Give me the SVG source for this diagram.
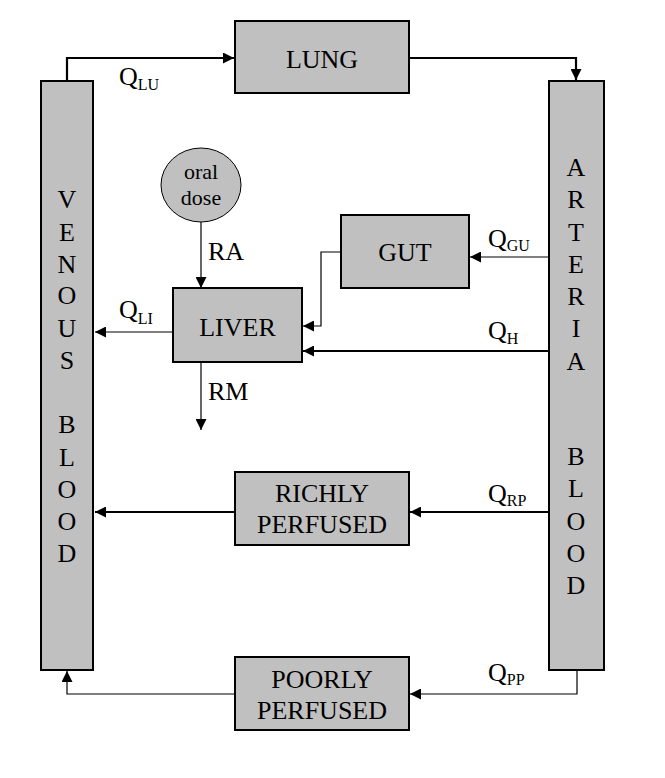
<svg xmlns="http://www.w3.org/2000/svg" width="665" height="778" viewBox="0 0 665 778">
<style>
.box{fill:#c0c0c0;stroke:#000;stroke-width:2}
.t{font-family:'Times New Roman',Times,'Liberation Serif','DejaVu Serif',serif;font-size:26px;fill:#000}
.c{text-anchor:middle}
.s{font-size:16px}
.od{font-size:22px}
.ln{fill:none;stroke:#000;stroke-width:1.2}
.th{stroke-width:2.2}
</style>
<defs>
<marker id="ah" markerUnits="userSpaceOnUse" markerWidth="11" markerHeight="11" refX="11" refY="5.5" orient="auto" viewBox="0 0 11 11">
<path d="M0,0 L11,5.5 L0,11 z" fill="#000"/>
</marker>
</defs>
<rect width="665" height="778" fill="#fff"/>
<g id="connectors">
<path class="ln th" d="M67,80 V58 H234" marker-end="url(#ah)"/>
<path class="ln th" d="M409,58 H576 V80" marker-end="url(#ah)"/>
<path class="ln" d="M549,257 H470" marker-end="url(#ah)"/>
<path class="ln" d="M341,252 H321 V326 H303" marker-end="url(#ah)"/>
<path class="ln th" d="M549,351 H303" marker-end="url(#ah)"/>
<path class="ln" d="M173,332 H95" marker-end="url(#ah)"/>
<path class="ln" d="M201,222 V288" marker-end="url(#ah)"/>
<path class="ln" d="M201,363 V430" marker-end="url(#ah)"/>
<path class="ln th" d="M549,512 H410" marker-end="url(#ah)"/>
<path class="ln th" d="M235,512 H95" marker-end="url(#ah)"/>
<path class="ln" d="M577,670 V694 H410" marker-end="url(#ah)"/>
<path class="ln" d="M235,694 H67 V671" marker-end="url(#ah)"/>
<text class="t" x="119" y="85">Q<tspan class="s" dy="5">LU</tspan></text>
<text class="t" x="488" y="247">Q<tspan class="s" dy="4">GU</tspan></text>
<text class="t" x="488" y="339">Q<tspan class="s" dy="5">H</tspan></text>
<text class="t" x="119" y="318">Q<tspan class="s" dy="6">LI</tspan></text>
<text class="t" x="488" y="502">Q<tspan class="s" dy="4">RP</tspan></text>
<text class="t" x="488" y="681">Q<tspan class="s" dy="4">PP</tspan></text>
<text class="t" x="208" y="260">RA</text>
<text class="t" x="208" y="400">RM</text>
</g>

<g id="lung">
<rect class="box" x="235" y="21" width="174" height="72"/>
<text class="t c" x="322" y="68">LUNG</text>
</g>

<g id="venous">
<rect class="box" x="41" y="81" width="52" height="589"/>
<g class="t c">
<text x="67" y="208">V</text>
<text x="67" y="241">E</text>
<text x="67" y="273">N</text>
<text x="67" y="304">O</text>
<text x="67" y="337">U</text>
<text x="67" y="369">S</text>
<text x="67" y="433">B</text>
<text x="67" y="466">L</text>
<text x="67" y="498">O</text>
<text x="67" y="530">O</text>
<text x="67" y="562">D</text>
</g>
</g>

<g id="arterial">
<rect class="box" x="549" y="81" width="55" height="589"/>
<g class="t c">
<text x="576" y="176">A</text>
<text x="576" y="208">R</text>
<text x="576" y="241">T</text>
<text x="576" y="273">E</text>
<text x="576" y="305">R</text>
<text x="576" y="337">I</text>
<text x="576" y="370">A</text>
<text x="576" y="465">B</text>
<text x="576" y="497">L</text>
<text x="576" y="530">O</text>
<text x="576" y="562">O</text>
<text x="576" y="594">D</text>
</g>
</g>

<g id="oral-dose">
<ellipse cx="201" cy="185" rx="40" ry="37" fill="#c0c0c0" stroke="#000" stroke-width="1"/>
<text class="t c od" x="201" y="179">oral</text>
<text class="t c od" x="201" y="205">dose</text>
</g>

<g id="gut">
<rect class="box" x="341" y="215" width="128" height="73"/>
<text class="t c" x="405" y="261">GUT</text>
</g>

<g id="liver">
<rect class="box" x="173" y="288" width="129" height="74"/>
<text class="t c" x="237.5" y="336">LIVER</text>
</g>

<g id="richly">
<rect class="box" x="235" y="472" width="174" height="73"/>
<text class="t c" x="322" y="502">RICHLY</text>
<text class="t c" x="322" y="533">PERFUSED</text>
</g>

<g id="poorly">
<rect class="box" x="235" y="657" width="174" height="73"/>
<text class="t c" x="322" y="688">POORLY</text>
<text class="t c" x="322" y="719">PERFUSED</text>
</g>
</svg>
